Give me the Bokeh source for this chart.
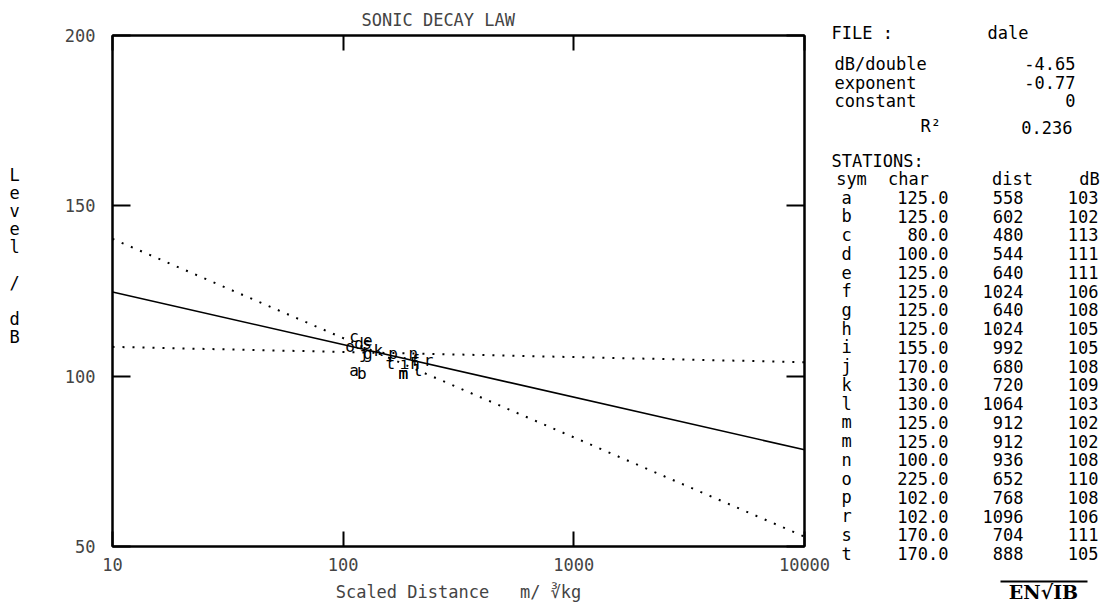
import numpy as np
from bokeh.plotting import figure
from bokeh.models import (ColumnDataSource, LogAxis, LinearAxis, FixedTicker,
                          Range1d, PrintfTickFormatter)
from bokeh.layouts import row
from bokeh.embed import file_html
from bokeh.resources import INLINE
from bokeh.core.properties import value

# ---------------- data ----------------
title_text = "SONIC DECAY LAW"
file_name = "dale"
db_per_double = "-4.65"
exponent = "-0.77"
constant = "0"
r_squared = "0.236"

stations_sym = ["a", "b", "c", "d", "e", "f", "g", "h", "i", "j",
                "k", "l", "m", "m", "n", "o", "p", "r", "s", "t"]
stations_char = [125.0, 125.0, 80.0, 100.0, 125.0, 125.0, 125.0, 125.0, 155.0, 170.0,
                 130.0, 130.0, 125.0, 125.0, 100.0, 225.0, 102.0, 102.0, 170.0, 170.0]
stations_dist = [558, 602, 480, 544, 640, 1024, 640, 1024, 992, 680,
                 720, 1064, 912, 912, 936, 652, 768, 1096, 704, 888]
stations_db = [103, 102, 113, 111, 111, 106, 108, 105, 105, 108,
               109, 103, 102, 102, 108, 110, 108, 106, 111, 105]

line_x = [10, 10000]
fit_level = [124.7, 78.4]
upper_level = [140.3, 52.9]
lower_level = [108.6, 104.1]

x_ticks = [10, 100, 1000, 10000]
y_ticks = [50, 100, 150, 200]

FONT = "DejaVu Sans Mono"
FS = "17px"

# scaled distance = dist / cube root of charge
scaled = [d / (c ** (1.0 / 3.0)) for d, c in zip(stations_dist, stations_char)]
src = ColumnDataSource(dict(sx=scaled, db=stations_db, sym=stations_sym))


def no_align(fig):
    try:
        fig.frame_align = False
    except Exception:
        pass


# ---------------- y label figure ----------------
lab = figure(width=48, height=604, x_range=Range1d(0, 48), y_range=Range1d(604, 0),
             output_backend="svg", toolbar_location=None, min_border=0,
             x_axis_location=None, y_axis_location=None)
no_align(lab)
lab.grid.visible = False
lab.outline_line_color = None
lab.text(x=[14], y=[255], text=["L\ne\nv\ne\nl\n \n/\n \nd\nB"],
         text_font=value(FONT), text_font_size=FS, text_align="center",
         text_baseline="middle", text_line_height=0.9, text_color="black")

# ---------------- main figure ----------------
p = figure(width=782, height=604, x_axis_type="log",
           x_range=Range1d(10, 10000), y_range=Range1d(50, 200),
           output_backend="svg", toolbar_location=None,
           min_border_left=64, min_border_right=26, min_border_top=35,
           min_border_bottom=58)
p.grid.visible = False
p.outline_line_color = "black"
p.outline_line_width = 2

p.title.text = title_text
p.title.align = "left"
p.title.offset = 249
p.title.text_font = FONT
p.title.text_font_size = FS
p.title.text_font_style = "normal"
p.title.standoff = 11

xa = p.xaxis[0]
xa.ticker = FixedTicker(ticks=x_ticks)
xa.formatter = PrintfTickFormatter(format="%d")
xa.major_tick_in = 15
xa.major_tick_out = 0
xa.minor_tick_line_color = None
xa.axis_line_width = 2
xa.major_tick_line_width = 2
xa.major_label_standoff = 11
xa.major_label_text_font = FONT
xa.major_label_text_font_size = FS
xa.axis_label = "Scaled Distance \u00a0 m/ \u221bkg"
xa.axis_label_text_font = FONT
xa.axis_label_text_font_size = FS
xa.axis_label_text_font_style = "normal"
xa.axis_label_standoff = 8

ya = p.yaxis[0]
ya.ticker = FixedTicker(ticks=y_ticks)
ya.major_tick_in = 18
ya.major_tick_out = 0
ya.minor_tick_line_color = None
ya.axis_line_width = 2
ya.major_tick_line_width = 2
ya.major_label_standoff = 17
ya.major_label_text_font = FONT
ya.major_label_text_font_size = FS

top = LogAxis(ticker=FixedTicker(ticks=x_ticks), major_tick_in=15, major_tick_out=0,
              minor_tick_line_color=None, axis_line_width=2, major_tick_line_width=2,
              major_label_text_font_size="1px", major_label_text_color=None,
              major_label_standoff=0)
p.add_layout(top, "above")
right = LinearAxis(ticker=FixedTicker(ticks=y_ticks), major_tick_in=18, major_tick_out=0,
                   minor_tick_line_color=None, axis_line_width=2, major_tick_line_width=2,
                   major_label_text_font_size="1px", major_label_text_color=None,
                   major_label_standoff=0)
p.add_layout(right, "right")

p.line(line_x, fit_level, line_color="black", line_width=1.6)
p.line(line_x, upper_level, line_color="black", line_width=2, line_dash="2 8")
p.line(line_x, lower_level, line_color="black", line_width=2, line_dash="2 8")

p.text(x="sx", y="db", text="sym", source=src, text_font=value(FONT),
       text_font_size="16px", text_align="center", text_baseline="top",
       y_offset=-5, text_color="black")

# ---------------- side table figure ----------------
s = figure(width=278, height=604, x_range=Range1d(830, 1108), y_range=Range1d(604, 0),
           output_backend="svg", toolbar_location=None, min_border=0,
           x_axis_location=None, y_axis_location=None)
no_align(s)
s.grid.visible = False
s.outline_line_color = None


def txt(xs, ys, texts, align):
    s.text(x=xs, y=ys, text=texts, text_font=value(FONT), text_font_size=FS,
           text_align=align, text_baseline="middle", text_color="black")


txt([831, 834, 834, 834, 920, 831], [32, 63, 82, 100, 125, 160],
    ["FILE :", "dB/double", "exponent", "constant", "R\u00b2", "STATIONS:"], "left")
txt([987], [32], [file_name], "left")
txt([1075, 1075, 1075, 1072], [63, 82, 100, 127],
    [db_per_double, exponent, constant, r_squared], "right")
txt([851, 908, 1012, 1089], [178, 178, 178, 178], ["sym", "char", "dist", "dB"], "center")

n = len(stations_sym)
row_y = [197 + i * (553 - 197) / (n - 1) for i in range(n)]
txt([846] * n, row_y, stations_sym, "center")
txt([948] * n, row_y, [f"{c:.1f}" for c in stations_char], "right")
txt([1023] * n, row_y, [str(d) for d in stations_dist], "right")
txt([1098] * n, row_y, [str(d) for d in stations_db], "right")

s.text(x=[1043], y=[591], text=["EN\u221aIB"], text_font=value("DejaVu Serif"),
       text_font_size="19px", text_font_style="bold", text_align="center",
       text_baseline="middle", text_color="black")
s.line([1000, 1087], [581, 581], line_color="black", line_width=2)

layout = row(lab, p, s)
open("out.html", "w").write(file_html(layout, INLINE))
